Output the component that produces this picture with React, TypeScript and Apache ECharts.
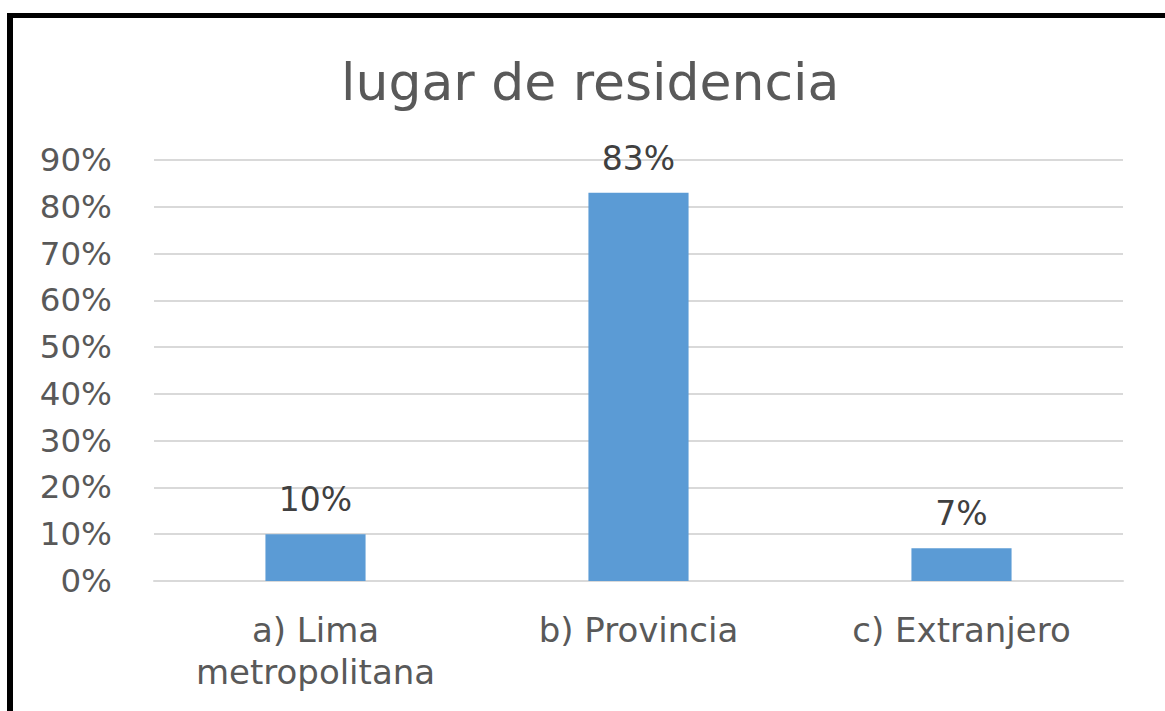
import React, { useEffect, useRef } from "react";
import * as echarts from "echarts";

const title = "lugar de residencia";
const categories = ["a) Lima\nmetropolitana", "b) Provincia", "c) Extranjero"];
const values = [0.1, 0.83, 0.07];

export default function App() {
  const ref = useRef<HTMLDivElement>(null);
  useEffect(() => {
    document.body.style.margin = "0";
    const chart = echarts.init(ref.current!, null, { renderer: "svg" });
    const font = "'DejaVu Sans', sans-serif";
    chart.setOption({
      animation: false,
      backgroundColor: "#ffffff",
      title: {
        text: title,
        left: 336,
        top: 51,
        textStyle: { fontFamily: font, fontSize: 52, fontWeight: "normal", color: "#595959" },
      },
      grid: { left: 154, right: 42, top: 160, bottom: 130 },
      xAxis: {
        type: "category",
        data: categories,
        axisLine: { show: true, lineStyle: { color: "#d9d9d9", width: 2 } },
        axisTick: { show: false },
        axisLabel: { fontFamily: font, fontSize: 34, color: "#595959", margin: 28, lineHeight: 42 },
      },
      yAxis: {
        type: "value",
        min: 0,
        max: 0.9,
        interval: 0.1,
        axisLine: { show: false },
        axisTick: { show: false },
        splitLine: { lineStyle: { color: "#d9d9d9", width: 2 } },
        axisLabel: {
          fontFamily: font,
          fontSize: 32.5,
          color: "#595959",
          margin: 42,
          formatter: (v: number) => Math.round(v * 100) + "%",
        },
      },
      series: [
        {
          type: "bar",
          data: values,
          barWidth: "31%",
          itemStyle: { color: "#5b9bd5" },
          label: {
            show: true,
            position: "top",
            distance: 18,
            fontFamily: font,
            fontSize: 33,
            color: "#404040",
            formatter: (p: any) => Math.round(p.value * 100) + "%",
          },
        },
      ],
      graphic: [
        { type: "rect", shape: { x: 7, y: 13, width: 1158, height: 5 }, style: { fill: "#000" } },
        { type: "rect", shape: { x: 7, y: 13, width: 6, height: 698 }, style: { fill: "#000" } },
      ],
    });
    return () => chart.dispose();
  }, []);
  return <div ref={ref} style={{ position: "absolute", left: 0, top: 0, width: 1165, height: 711 }} />;
}
